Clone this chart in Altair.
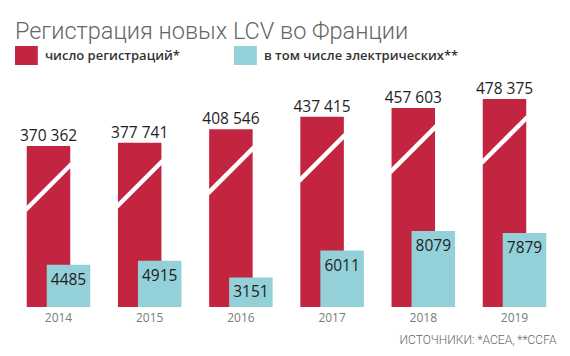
import altair as alt
import pandas as pd

years = ["2014", "2015", "2016", "2017", "2018", "2019"]
registrations = [370362, 377741, 408546, 437415, 457603, 478375]
electric = [4485, 4915, 3151, 6011, 8079, 7879]
series_names = ["число регистраций*", "в том числе электрических**"]
colors = ["#c32440", "#93d0d8"]

rows = []
for y, r, e in zip(years, registrations, electric):
    rows.append({"year": y, "series": series_names[0], "value": r,
                 "label": f"{r:,}".replace(",", " ")})
    rows.append({"year": y, "series": series_names[1], "value": e,
                 "label": str(e)})
df = pd.DataFrame(rows)

FONT = "Open Sans"
LIGHT = "Roboto"
RED_DOMAIN = [0, 529000]
CYAN_DOMAIN = [0, 24470]

x_enc = alt.X("year:N", sort=years,
              scale=alt.Scale(paddingInner=0, paddingOuter=0),
              axis=alt.Axis(title="ИСТОЧНИКИ: *ACEA, **CCFA", labelAngle=0,
                            labelColor="#7a7a7a", labelFontSize=12, labelFont=FONT,
                            labelPadding=5, ticks=False, domain=False, grid=False,
                            titleAnchor="end", titleAlign="right", titleColor="#666666",
                            titleFont=LIGHT, titleFontSize=12, titleFontWeight=300,
                            titleX=543, titleY=36, titleBaseline="alphabetic"))

color_enc = alt.Color("series:N",
                      scale=alt.Scale(domain=series_names, range=colors),
                      legend=alt.Legend(title=None, orient="none", direction="horizontal",
                                        legendX=4, legendY=-31,
                                        symbolType="M-1.2,-1H1.2V1H-1.2Z", symbolSize=361,
                                        symbolStrokeWidth=0, symbolOpacity=1,
                                        labelFont=FONT, labelFontSize=13, labelFontWeight=600,
                                        labelColor="#333333", labelOffset=9, labelLimit=400,
                                        columnPadding=53, padding=0))

base = alt.Chart(df)
red_y = alt.Y("value:Q", scale=alt.Scale(domain=RED_DOMAIN), axis=None)
cyan_y = alt.Y("value:Q", scale=alt.Scale(domain=CYAN_DOMAIN), axis=None)

red = base.transform_filter(alt.datum.series == series_names[0]).mark_bar(
    size=43.5, xOffset=-10).encode(x=x_enc, y=red_y, color=color_enc)

brk = base.transform_filter(alt.datum.series == series_names[0]).mark_rule(
    color="white", strokeWidth=4.5, xOffset=-33, x2Offset=13, yOffset=64, y2Offset=18
).encode(x=x_enc, x2="year:N", y=red_y, y2="value:Q")

cyan = base.transform_filter(alt.datum.series == series_names[1]).mark_bar(
    size=43.5, xOffset=10).encode(x=x_enc, y=cyan_y, color=color_enc)

red_txt = base.transform_filter(alt.datum.series == series_names[0]).mark_text(
    font=FONT, fontSize=15.5, fontWeight=500, color="#1e1e1e", baseline="alphabetic",
    dy=-5, xOffset=-10
).encode(x=x_enc, y=red_y, text="label:N")

cyan_txt = base.transform_filter(alt.datum.series == series_names[1]).mark_text(
    font=FONT, fontSize=15.5, fontWeight=500, color="#1e1e1e", baseline="middle",
    dy=15, xOffset=10
).encode(x=x_enc, y=cyan_y, text="label:N")

chart = alt.layer(red, brk, cyan, red_txt, cyan_txt).resolve_scale(
    y="independent"
).properties(
    width=547.2, height=230,
    background="white",
    autosize=alt.AutoSizeParams(type="none"),
    padding={"left": 12.9, "top": 77, "right": 9.9, "bottom": 49},
    title=alt.TitleParams("Регистрация новых LCV во Франции", anchor="start", frame="group",
                          font=LIGHT, fontSize=23.5, fontWeight=300, color="#666666",
                          offset=3, dx=2),
).configure_view(strokeWidth=0, stroke="transparent")

chart.save("out.html", embed_options={"renderer": "svg", "actions": False})
